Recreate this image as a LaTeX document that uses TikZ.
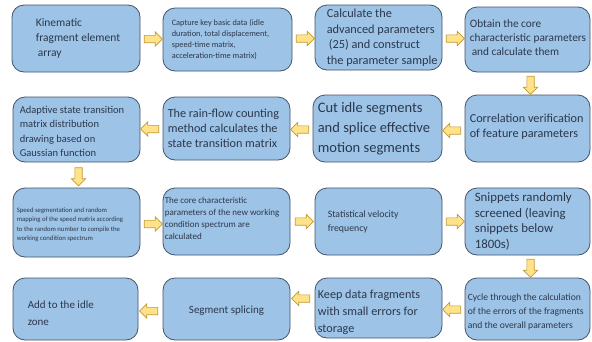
\documentclass[tikz,border=0pt]{standalone}
\usepackage{fontspec}
\setmainfont{Carlito}
\usetikzlibrary{shapes.arrows,calc}
\definecolor{boxfill}{HTML}{9DC3E6}
\definecolor{boxline}{HTML}{44536A}
\definecolor{boxtext}{HTML}{2B384C}
\definecolor{arrowfill}{HTML}{FFE28A}
\definecolor{arrowline}{HTML}{C29A2E}
\newcommand\boxfont[2]{\fontsize{#1}{#2}\selectfont}
\begin{document}
\begin{tikzpicture}[x=1pt,y=-1pt,
  stage/.style={draw=boxline, fill=boxfill, line width=0.8pt, rounded corners=12pt, inner sep=0pt},
  caption/.style={text=boxtext, align=left, inner sep=0pt, anchor=west},
  flow/.style={single arrow, draw=arrowline, fill=arrowfill, line width=0.7pt,
    minimum height=18pt, inner sep=3.3pt, single arrow head extend=3.5pt,
    single arrow head indent=0pt},
  flowleft/.style={flow, shape border rotate=180},
  flowdown/.style={flow, shape border rotate=270}]

\useasboundingbox (0,0) rectangle (592,341);
\fill[white] (0,0) rectangle (592,341);

% ---- process boxes ----
\node[stage, minimum width=128pt, minimum height=67pt] (A) at (76,38.5) {};
\node[stage, minimum width=129pt, minimum height=63pt] (B) at (227.5,39.5) {};
\node[stage, minimum width=127pt, minimum height=65pt] (C) at (378.5,37.5) {};
\node[stage, minimum width=125pt, minimum height=65pt] (D) at (527.5,39.5) {};

\node[stage, minimum width=127pt, minimum height=65pt] (E) at (76.5,129.5) {};
\node[stage, minimum width=127pt, minimum height=63pt] (F) at (226.5,128.5) {};
\node[stage, minimum width=129pt, minimum height=67pt] (G) at (377.5,128.5) {};
\node[stage, minimum width=125pt, minimum height=67pt] (H) at (527.5,128.5) {};

\node[stage, minimum width=127pt, minimum height=69pt] (I) at (76.5,222.5) {};
\node[stage, minimum width=127pt, minimum height=67pt] (J) at (226.5,221.5) {};
\node[stage, minimum width=127pt, minimum height=67pt] (K) at (378.5,221.5) {};
\node[stage, minimum width=125pt, minimum height=67pt] (L) at (527.5,221.5) {};

\node[stage, minimum width=125pt, minimum height=62pt] (M) at (75.5,309) {};
\node[stage, minimum width=127pt, minimum height=62pt] (N) at (226.5,309) {};
\node[stage, minimum width=127pt, minimum height=60pt] (O) at (378.5,308) {};
\node[stage, minimum width=125pt, minimum height=62pt] (P) at (527.5,309) {};

% ---- box texts ----
\node[caption, font=\boxfont{11.5}{15}] (At) at ([xshift=24pt]A.west)
  {Kinematic\\fragment element\\\hspace*{2pt}array};
\node[caption, font=\boxfont{8.3}{11.2}] (Bt) at ([xshift=9pt]B.west)
  {Capture key basic data (idle\\duration, total displacement,\\speed-time matrix,\\acceleration-time matrix)};
\node[caption, font=\boxfont{12.3}{15.5}] (Ct) at ([xshift=12pt]C.west)
  {Calculate the\\advanced parameters\\\hspace*{2pt}(25) and construct\\the parameter sample};
\node[caption, font=\boxfont{11.3}{14}] (Dt) at ([xshift=5pt,yshift=2pt]D.west)
  {Obtain the core\\characteristic parameters\\\hspace*{2pt}and calculate them};

\node[caption, font=\boxfont{10.5}{14.3}] (Et) at ([xshift=7pt,yshift=-2pt]E.west)
  {Adaptive state transition\\matrix distribution\\drawing based on\\Gaussian function};
\node[caption, font=\boxfont{12.2}{15}] (Ft) at ([xshift=5pt]F.west)
  {The rain-flow counting\\method calculates the\\state transition matrix};
\node[caption, font=\boxfont{14.5}{20}] (Gt) at ([xshift=5pt]G.west)
  {Cut idle segments\\and splice effective\\motion segments};
\node[caption, font=\boxfont{12.2}{15}] (Ht) at ([xshift=5pt,yshift=2pt]H.west)
  {Correlation verification\\of feature parameters};

\node[caption, font=\boxfont{6.7}{9.5}] (It) at ([xshift=4pt,yshift=-2pt]I.west)
  {Speed segmentation and random\\mapping of the speed matrix according\\to the random number to compile the\\working condition spectrum};
\node[caption, font=\boxfont{9}{12}] (Jt) at ([xshift=2pt,yshift=3pt]J.west)
  {The core characteristic\\parameters of the new working\\condition spectrum are\\calculated};
\node[caption, font=\boxfont{9.8}{14}] (Kt) at ([xshift=13pt]K.west)
  {Statistical velocity\\frequency};
\node[caption, font=\boxfont{12.8}{15.5}] (Lt) at ([xshift=10pt]L.west)
  {Snippets randomly\\screened (leaving\\snippets below\\1800s)};

\node[caption, font=\boxfont{11}{17}] (Mt) at ([xshift=15pt,yshift=-4pt]M.west)
  {Add to the idle\\zone};
\node[text=boxtext, inner sep=0pt, font=\boxfont{11}{14}] (Nt) at ([yshift=-2pt]N.center)
  {Segment splicing};
\node[caption, font=\boxfont{12.2}{17}] (Ot) at ([xshift=3pt,yshift=-4pt]O.west)
  {Keep data fragments\\with small errors for\\storage};
\node[caption, font=\boxfont{9.6}{14}] (Pt) at ([xshift=3pt,yshift=-3pt]P.west)
  {Cycle through the calculation\\of the errors of the fragments\\and the overall parameters};

% ---- flow arrows ----
\node[flow] (AB) at ($(A.east)!0.5!(B.west)$) {};
\node[flow] (BC) at ($(B.east)!0.5!(C.west)$) {};
\node[flow] (CD) at ($(C.east)!0.5!(D.west)$) {};
\node[flowdown] (DH) at ([xshift=3pt]$(D.south)!0.5!(H.north)$) {};
\node[flowleft] (HG) at ([yshift=-2pt]$(H.west)!0.5!(G.east)$) {};
\node[flowleft] (GF) at ([yshift=-1pt]$(G.west)!0.5!(F.east)$) {};
\node[flowleft] (FE) at ($(F.west)!0.5!(E.east)$) {};
\node[flowdown] (EI) at ([xshift=2pt]$(E.south)!0.5!(I.north)$) {};
\node[flow] (IJ) at ([yshift=-2pt]$(I.east)!0.5!(J.west)$) {};
\node[flow] (JK) at ($(J.east)!0.5!(K.west)$) {};
\node[flow] (KL) at ($(K.east)!0.5!(L.west)$) {};
\node[flowdown] (LP) at ([xshift=3pt]$(L.south)!0.5!(P.north)$) {};
\node[flowleft] (PO) at ([yshift=-1pt]$(P.west)!0.5!(O.east)$) {};
\node[flowleft] (ON) at ([yshift=10pt]$(O.west)!0.5!(N.east)$) {};
\node[flowleft] (NM) at ([yshift=-2pt]$(N.west)!0.5!(M.east)$) {};
\end{tikzpicture}
\end{document}
